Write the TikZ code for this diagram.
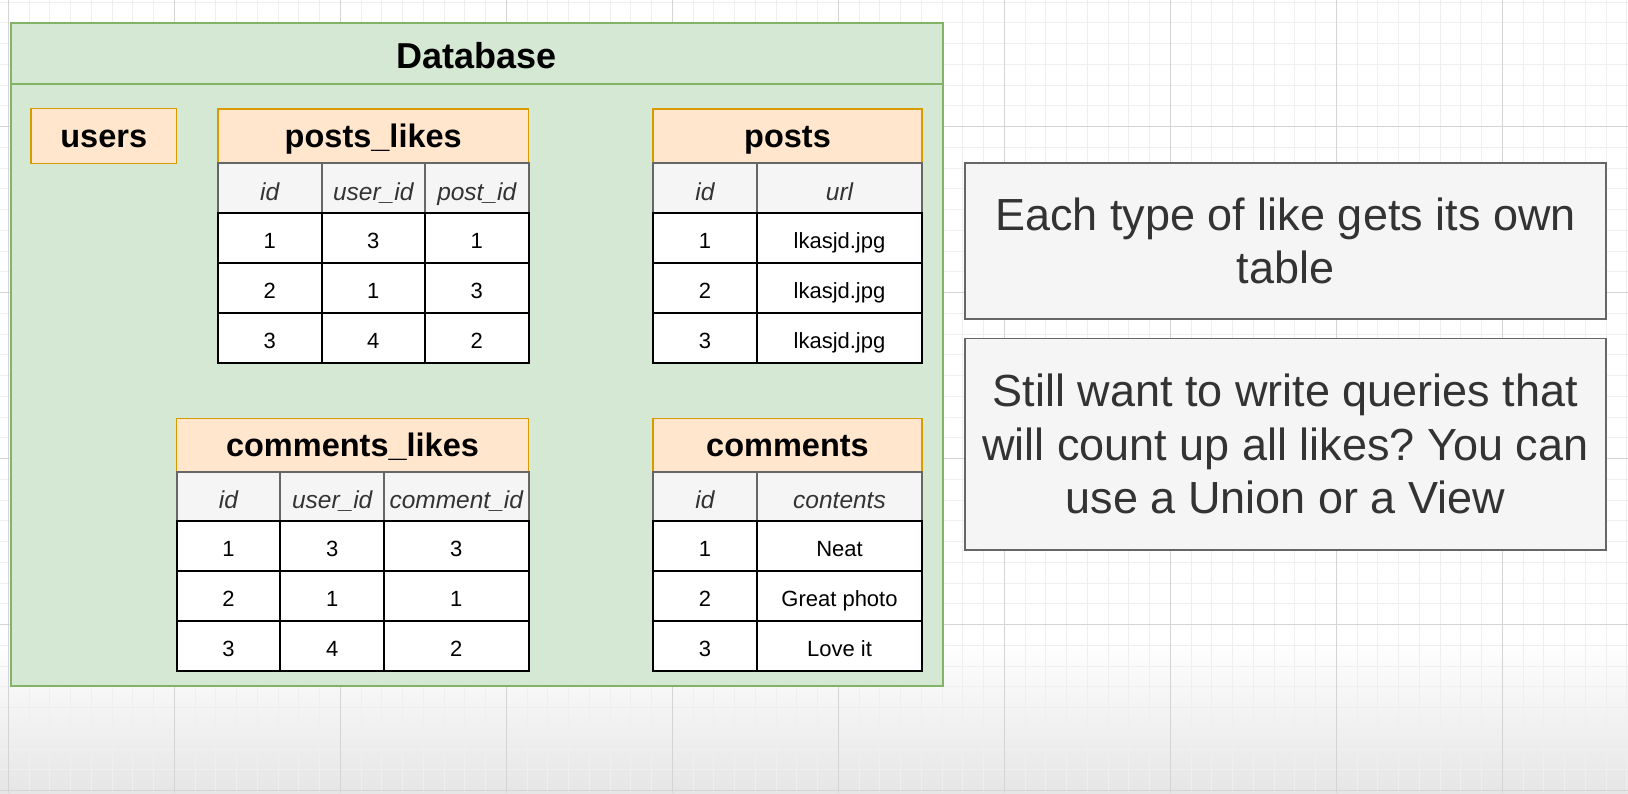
\documentclass[tikz,border=0pt]{standalone}
\usepackage{fontspec}
\setmainfont{Liberation Sans}
\frenchspacing

\definecolor{dbgreen}{HTML}{D5E8D4}
\definecolor{dbline}{HTML}{82B366}
\definecolor{namefill}{HTML}{FFE6CC}
\definecolor{nameline}{HTML}{D79B00}
\definecolor{headfill}{HTML}{F5F5F5}
\definecolor{headline}{HTML}{666666}
\definecolor{darktext}{HTML}{333333}
\definecolor{gridminor}{HTML}{EFEFEF}
\definecolor{gridmajor}{HTML}{D4D4D4}

\tikzset{
  tblname/.style={draw=nameline, fill=namefill, line width=1.5pt, inner sep=0pt,
    minimum height=54pt, text height=23.4pt, text depth=0pt,
    font=\fontsize{32.5}{39}\selectfont\bfseries},
  colhead/.style={draw=headline, fill=headfill, line width=2pt, inner sep=0pt,
    minimum height=50pt, text height=24pt, text depth=0pt, text=darktext,
    font=\fontsize{24.5}{29}\selectfont\itshape},
  cell/.style={draw=black, fill=white, line width=2pt, inner sep=0pt,
    minimum height=50pt, text height=21.5pt, text depth=0pt,
    font=\fontsize{22}{26}\selectfont},
  note/.style={draw=headline, fill=headfill, line width=1.8pt, text=darktext,
    align=center, minimum width=641.7pt, inner sep=0pt,
    font=\fontsize{45}{53.5}\selectfont},
  narrow/.style={minimum width=103.5pt},
  wide/.style={minimum width=165pt}
}

\begin{document}
\begin{tikzpicture}[x=1pt,y=-1pt]

        \fill[white] (0,0) rectangle (1628,793);
        \useasboundingbox (0,0) rectangle (1628,793);

        % canvas grid
        \shade[top color=white,bottom color=black!10] (0,640) rectangle (1628,793);
        \foreach \i in {0,...,78}
          \draw[gridminor,line width=1pt] ({8.3+20.75*\i},0) -- ++(0,793);
        \foreach \j in {0,...,38}
          \draw[gridminor,line width=1pt] (0,{2.2+20.75*\j}) -- ++(1628,0);
        \foreach \i in {0,...,9}
          \draw[gridmajor,line width=1pt] ({8.3+166*\i},0) -- ++(0,793);
        \foreach \j in {0,...,4}
          \draw[gridmajor,line width=1pt] (0,{126.7+166*\j}) -- ++(1628,0);

        % database container
        \node[draw=dbline, fill=dbgreen, line width=2pt, minimum width=932.5pt,
              minimum height=663pt] (db) at (476.75,354.5) {};
        \draw[dbline,line width=2pt] ([yshift=-62pt]db.north west) -- ([yshift=-62pt]db.north east);
        \node[text height=26pt, text depth=0pt, inner sep=0pt,
              font=\fontsize{36}{43}\selectfont\bfseries] (dbname) at (476.75,55.5) {Database};

        \node[tblname, minimum width=145.5pt, minimum height=55pt] (users) at (103.75,136) {users};

        % posts_likes
        \node[tblname, minimum width=310.5pt] (pl) at (373.25,136) {posts\_likes};
        \begin{scope}[every node/.style={narrow}]
          \node[colhead] (pl-id)  at (269.75,188) {id};
          \node[colhead] (pl-uid) at (373.25,188) {user\_id};
          \node[colhead] (pl-pid) at (476.75,188) {post\_id};
          \node[cell] (pl-11) at (269.75,237.5) {1};
          \node[cell] (pl-12) at (373.25,237.5) {3};
          \node[cell] (pl-13) at (476.75,237.5) {1};
          \node[cell] (pl-21) at (269.75,287.5) {2};
          \node[cell] (pl-22) at (373.25,287.5) {1};
          \node[cell] (pl-23) at (476.75,287.5) {3};
          \node[cell] (pl-31) at (269.75,337.5) {3};
          \node[cell] (pl-32) at (373.25,337.5) {4};
          \node[cell] (pl-33) at (476.75,337.5) {2};
        \end{scope}

        % posts
        \node[tblname, minimum width=269pt] (po) at (787.5,136) {posts};
        \node[colhead, minimum width=104pt] (po-id)  at (705,188)   {id};
        \node[colhead, wide]                (po-url) at (839.5,188) {url};
        \node[cell, minimum width=104pt] (po-11) at (705,237.5)   {1};
        \node[cell, wide]                (po-12) at (839.5,237.5) {lkasjd.jpg};
        \node[cell, minimum width=104pt] (po-21) at (705,287.5)   {2};
        \node[cell, wide]                (po-22) at (839.5,287.5) {lkasjd.jpg};
        \node[cell, minimum width=104pt] (po-31) at (705,337.5)   {3};
        \node[cell, wide]                (po-32) at (839.5,337.5) {lkasjd.jpg};

        % comments_likes
        \node[tblname, minimum width=352pt, minimum height=53pt] (cl) at (352.5,445) {comments\_likes};
        \begin{scope}[every node/.style={minimum width=103.8pt}]
          \node[colhead] (cl-id)  at (228.4,496.5) {id};
          \node[colhead] (cl-uid) at (332.2,496.5) {user\_id};
          \node[colhead, minimum width=144.5pt] (cl-cid) at (456.25,496.5) {comment\_id};
          \node[cell] (cl-11) at (228.4,546) {1};
          \node[cell] (cl-12) at (332.2,546) {3};
          \node[cell, minimum width=144.5pt] (cl-13) at (456.25,546) {3};
          \node[cell] (cl-21) at (228.4,596) {2};
          \node[cell] (cl-22) at (332.2,596) {1};
          \node[cell, minimum width=144.5pt] (cl-23) at (456.25,596) {1};
          \node[cell] (cl-31) at (228.4,646) {3};
          \node[cell] (cl-32) at (332.2,646) {4};
          \node[cell, minimum width=144.5pt] (cl-33) at (456.25,646) {2};
        \end{scope}

        % comments
        \node[tblname, minimum width=269pt, minimum height=53pt] (co) at (787.5,445) {comments};
        \node[colhead, minimum width=104pt] (co-id)  at (705,496.5)   {id};
        \node[colhead, wide]                (co-txt) at (839.5,496.5) {contents};
        \node[cell, minimum width=104pt] (co-11) at (705,546)   {1};
        \node[cell, wide]                (co-12) at (839.5,546) {Neat};
        \node[cell, minimum width=104pt] (co-21) at (705,596)   {2};
        \node[cell, wide]                (co-22) at (839.5,596) {Great photo};
        \node[cell, minimum width=104pt] (co-31) at (705,646)   {3};
        \node[cell, wide]                (co-32) at (839.5,646) {Love it};

        % notes
        \node[note, minimum height=155.8pt] (note1) at (1285.5,241)
          {Each type of like gets its own\\table};
        \node[note, minimum height=211.8pt] (note2) at (1285.5,444.4)
          {Still want to write queries that\\will count up all likes? You can\\use a Union or a View};

      \end{tikzpicture}
\end{document}
